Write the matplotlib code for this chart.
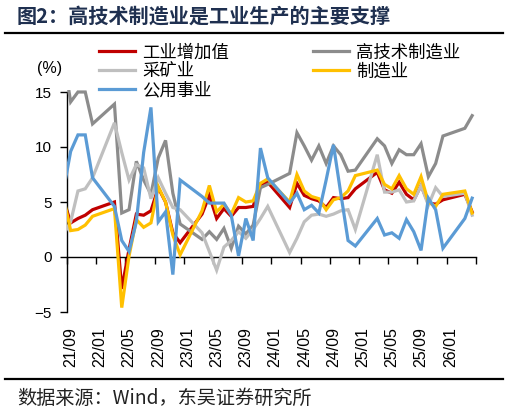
import numpy as np
import matplotlib
matplotlib.use("Agg")
import matplotlib.pyplot as plt
from matplotlib.transforms import Bbox, TransformedBbox, blended_transform_factory

plt.rcParams['font.family'] = ['Noto Sans CJK SC', 'DejaVu Sans']

nan = np.nan
# months 2021/08 ... 2026/04 (Jan/Feb not published -> nan, lines connect across)
months = [f"{y % 100:02d}/{m:02d}" for y in range(2021, 2027) for m in range(1, 13)]
months = months[months.index("21/08"):months.index("26/04") + 1]

industry = [5.3, 3.1, 3.5, 3.8, 4.3,
            nan, nan, 5.0, -2.9, 0.7, 3.9, 3.8, 4.2, 6.3, 5.0, 2.2, 1.3,
            nan, nan, 3.9, 5.6, 3.5, 4.4, 3.7, 4.5, 4.5, 4.6, 6.6, 6.8,
            nan, nan, 4.5, 6.7, 5.6, 5.3, 5.1, 4.5, 5.4, 5.3, 5.4, 6.2,
            nan, nan, 7.7, 6.1, 5.8, 6.8, 5.7, 5.2, 6.5, 4.9, 4.8, 5.2,
            nan, nan, 5.7, 4.1]
hightech = [18.3, 14.1, 15.0, 15.0, 12.1,
            nan, nan, 13.9, 4.0, 4.3, 8.7, 7.0, 5.7, 9.0, 10.6, 5.8, 3.0,
            nan, nan, 1.6, 2.3, 1.6, 2.6, 0.8, 2.8, 2.1, 2.9, 6.3, 6.6,
            nan, nan, 7.6, 11.3, 10.1, 8.8, 10.1, 8.5, 10.1, 9.3, 7.8, 7.9,
            nan, nan, 10.75, 10.1, 8.5, 9.75, 9.3, 9.3, 10.3, 7.3, 8.5, 11.0,
            nan, nan, 11.7, 12.85]
mining = [2.0, 3.2, 6.0, 6.2, 7.2,
          nan, nan, 12.2, 9.5, 7.0, 8.4, 8.1, 5.3, 7.2, 5.8, 4.5, 4.3,
          nan, nan, 2.2, 0.5, -1.2, 0.9, 1.5, 2.3, 1.7, 2.5, 3.5, 4.6,
          nan, nan, 0.4, 1.7, 3.2, 3.8, 3.9, 3.7, 3.9, 4.2, 4.3, 2.5,
          nan, nan, 9.3, 5.9, 5.9, 6.1, 5.0, 5.1, 6.5, 4.7, 6.3, 5.5,
          nan, nan, 5.8, 3.8]
manufacturing = [5.5, 2.4, 2.5, 2.9, 3.7,
                 nan, nan, 4.4, -4.6, 0.1, 3.4, 2.7, 3.1, 6.4, 5.0, 2.0, 0.2,
                 nan, nan, 4.2, 6.5, 4.1, 4.8, 3.9, 5.4, 5.0, 5.1, 6.7, 7.1,
                 nan, nan, 5.0, 7.5, 6.0, 5.5, 5.3, 4.3, 5.2, 5.4, 6.0, 7.4,
                 nan, nan, 7.9, 6.6, 6.2, 7.4, 6.2, 5.7, 7.3, 5.0, 4.6, 5.7,
                 nan, nan, 6.0, 4.0]
utilities = [6.0, 9.6, 11.1, 11.1, 7.2,
             nan, nan, 4.6, 1.5, 0.5, 3.2, 9.5, 13.6, 3.2, 4.1, -1.6, 7.0,
             nan, nan, 5.5, 4.9, 4.9, 4.9, 3.8, 0.1, 3.5, 1.5, 9.9, 7.2,
             nan, nan, 4.9, 5.8, 4.3, 4.7, 4.0, 7.0, 10.2, 5.8, 1.5, 1.0,
             nan, nan, 3.5, 2.0, 2.2, 1.7, 3.4, 2.3, 0.6, 5.35, 4.3, 0.8,
             nan, nan, 3.5, 5.35]

series = [("工业增加值", industry, "#C00000"),
          ("高技术制造业", hightech, "#8C8C8C"),
          ("采矿业", mining, "#BFBFBF"),
          ("制造业", manufacturing, "#FFC000"),
          ("公用事业", utilities, "#5B9BD5")]

tick_labels = ["21/09", "22/01", "22/05", "22/09", "23/01", "23/05", "23/09",
               "24/01", "24/05", "24/09", "25/01", "25/05", "25/09", "26/01"]

W, H = 509, 412
fig = plt.figure(figsize=(W / 100, H / 100), dpi=100)
ax = fig.add_axes([67 / W, 1 - 312 / H, (475.8 - 67) / W, (312 - 92) / H])

x = np.arange(len(months)) - 1  # 21/09 -> 0
xmin, xmax = -0.5, len(months) - 1.5
ax.set_xlim(xmin, xmax)
ax.set_ylim(-5, 15)

clipbox = TransformedBbox(Bbox([[xmin, -5.3], [xmax, 15.15]]), ax.transData)
handles = {}
for k, (name, vals, col) in enumerate(series):
    v = np.array(vals, dtype=float)
    m = ~np.isnan(v)
    ln, = ax.plot(x[m], v[m], color=col, lw=2.3, label=name, zorder=2 + k,
                  solid_joinstyle='miter')
    ln.set_clip_path(None)
    ln.set_clip_box(clipbox)
    handles[name] = ln

for s in ["top", "right"]:
    ax.spines[s].set_visible(False)
ax.spines["bottom"].set_position(("data", 0))
ax.spines["bottom"].set_linewidth(1.0)
ax.spines["left"].set_linewidth(1.0)
ax.set_xticks(np.arange(xmin, xmax + 0.01, 4))
ax.tick_params(axis="x", direction="out", length=5, width=1, labelbottom=False)
ax.set_yticks([-5, 0, 5, 10, 15])
ax.set_yticklabels(["−5", "0", "5", "10", "15"], family="Liberation Sans", fontsize=11)
ax.tick_params(axis="y", direction="out", length=5, width=1, pad=6)

trans = blended_transform_factory(ax.transData, ax.transAxes)
for lab in tick_labels:
    xi = months.index(lab) - 1
    ax.text(xi, -0.068, lab, rotation=90, ha="center", va="top", transform=trans,
            family="Liberation Sans", fontsize=11.5)

fig.text(49.5 / W, 1 - 68 / H, "(%)", ha="center", va="center",
         family="Liberation Sans", fontsize=11.5)

order = ["工业增加值", "采矿业", "公用事业", "高技术制造业", "制造业"]
leg = fig.legend([handles[n] for n in order], order, ncol=2, loc="upper left",
                 bbox_to_anchor=(99 / W, 1 - 43.5 / H), frameon=False, fontsize=12.5,
                 handlelength=2.1, handletextpad=0.4, columnspacing=4.8,
                 labelspacing=0.05, borderpad=0, borderaxespad=0)

# title and rules
fig.text(17 / W, 1 - 16 / H, "图2：高技术制造业是工业生产的主要支撑", ha="left", va="center",
         fontsize=14.5, fontweight="bold", color="#1F3050")
fig.add_artist(plt.Line2D([5 / W, 503 / W], [1 - 33 / H, 1 - 33 / H], color="black", lw=1.6))
fig.add_artist(plt.Line2D([5 / W, 503 / W], [1 - 379 / H, 1 - 379 / H], color="black", lw=1.6))
fig.text(17 / W, 1 - 398 / H, "数据来源：Wind，东吴证券研究所", ha="left", va="center",
         fontsize=13.8, color="#222222")

fig.savefig("out.png", dpi=100)
